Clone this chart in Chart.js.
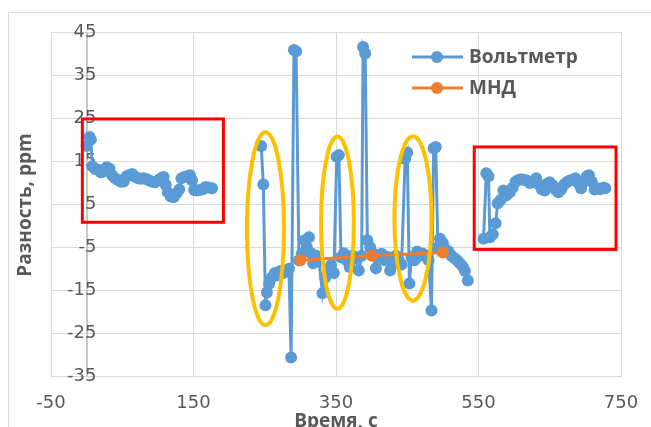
<!DOCTYPE html>
<html>
<head>
<meta charset="utf-8">
<script src="https://cdn.jsdelivr.net/npm/chart.js@4.4.1/dist/chart.umd.min.js"></script>
<style>
  html, body { margin: 0; padding: 0; background: #fff; }
  #wrap { position: relative; width: 651px; height: 427px; }
</style>
</head>
<body>
<div id="wrap"><canvas id="chart"></canvas></div>
<script>
// Вольтметр: три участка записи (время, с / разность, ppm)
const voltTime1 = [
    0, 4, 6, 8, 12, 16, 20, 24, 28, 32, 36, 40, 44, 48, 52, 56, 60, 64, 68, 72,
    76, 80, 84, 88, 92, 96, 100, 104, 108, 111, 114, 118, 122, 126, 130, 133, 137, 141, 145, 148,
    151, 155, 159, 163, 167, 171, 176
];
const voltDiff1 = [
    18.5, 20.6, 20.0, 13.8, 13.2, 13.0, 12.4, 12.6, 13.6, 13.3, 11.7, 11.0, 10.6, 10.2, 10.3, 11.5, 11.8, 12.0, 11.4, 11.0,
    10.9, 11.0, 10.8, 10.5, 10.2, 10.1, 10.5, 11.0, 11.3, 9.5, 7.8, 6.8, 6.6, 7.5, 8.4, 11.0, 11.3, 11.5, 11.7, 10.5,
    8.3, 8.2, 8.3, 8.5, 9.0, 8.9, 8.7
];
const voltTime2 = [
    245, 248, 251, 253, 256, 260, 264, 268, 272, 276, 280, 284, 287, 291, 294, 298, 302, 306, 309, 312,
    315, 318, 322, 326, 331, 335, 339, 343, 347, 351, 354, 357, 361, 365, 369, 373, 377, 382, 386, 388,
    391, 394, 398, 402, 406, 410, 414, 418, 422, 426, 430, 434, 438, 442, 447, 450, 453, 456, 460, 464,
    468, 472, 476, 480, 484, 487, 490, 493, 496, 500, 504, 508, 512, 516, 520, 524, 528, 531, 535
];
const voltDiff2 = [
    18.5, 9.6, -18.5, -15.5, -13.5, -12, -11, -11.5, -10.5, -11, -10.4, -10, -30.6, 40.8, 40.5, -8, -6.5, -3.4, -5, -2.7,
    -6.4, -8.7, -7, -8, -15.7, -12, -11, -9.2, -11, 16, 16.4, -7.3, -6.4, -8, -9.6, -7, -7.5, -10.4, -7, 41.5,
    40, -3.4, -5, -6.4, -9.9, -7, -6.5, -8, -7.2, -10.4, -9, -7, -8, -9, 15.5, 17, -13.4, -7.3, -8, -6,
    -7, -6.5, -7, -8, -19.7, 18, 18.3, -5, -3, -4, -5.5, -6, -7, -7.5, -8, -8.8, -9.5, -10.5, -12.7
];
const voltTime3 = [
    557, 561, 564, 566, 570, 574, 577, 581, 585, 589, 594, 598, 602, 606, 610, 614, 618, 622, 627, 631,
    635, 639, 643, 647, 650, 654, 658, 662, 666, 670, 674, 678, 682, 686, 690, 694, 698, 702, 705, 709,
    713, 717, 721, 725, 728
];
const voltDiff3 = [
    -3, 12.2, 11.5, -2.7, -2.0, 0.6, 5.2, 6.0, 8.2, 7.0, 7.8, 8.8, 10.2, 10.6, 10.8, 10.6, 10.5, 9.9, 10.3, 11.0,
    9.5, 8.4, 8.2, 9.8, 10.1, 9.4, 8.5, 7.8, 8.4, 9.5, 10.1, 10.5, 10.7, 11.0, 10.0, 8.7, 10.3, 11.5, 11.7, 10.2,
    8.4, 8.7, 8.5, 8.8, 8.7
];
// МНД
const mndTime = [300, 400, 500];
const mndDiff = [-8.0, -7.0, -6.2];

// деления осей
const xTicks = [-50, 150, 350, 550, 750];
const yTicks = [-35, -25, -15, -5, 5, 15, 25, 35, 45];

const seriesNames = ['Вольтметр', 'МНД'];
const xTitle = 'Время, с';
const yTitle = 'Разность, ppm';

// Пометки на рисунке (в единицах осей)
const redBoxes = [
    { x1: -6, x2: 192, y1: 0.8, y2: 24.8 },
    { x1: 544, x2: 743, y1: -5.5, y2: 18.3 }
];
const ovals = [
    { cx: 251, cy: -0.7, rx: 26, ry: 22.4 },
    { cx: 352, cy: 0.7, rx: 23, ry: 20 },
    { cx: 458, cy: 1.7, rx: 26, ry: 19.1 }
];

const BLUE = '#5B9BD5';
const ORANGE = '#ED7D31';
const GRID = '#D9D9D9';
const TEXT = '#595959';
const BOLD = 'bold 19px "Open Sans", "Liberation Sans", sans-serif';
const TICK_FONT = { family: '"DejaVu Sans", sans-serif', size: 18 };

const toPoints = (xs, ys) => xs.map((x, i) => ({ x, y: ys[i] }));

// участки не соединяются между собой
const voltPoints = [
    ...toPoints(voltTime1, voltDiff1), { x: 210, y: null },
    ...toPoints(voltTime2, voltDiff2), { x: 545, y: null },
    ...toPoints(voltTime3, voltDiff3)
];

// сетка: линии толщиной 1 px по делениям осей
const drawGrid = (chart) => {
    const { ctx: c, chartArea: a, scales: { x, y } } = chart;
    c.save();
    c.fillStyle = GRID;
    yTicks.forEach(v => {
        const row = Math.round(y.getPixelForValue(v) - 0.5);
        c.fillRect(Math.round(a.left), row, Math.round(a.right - a.left) + 1, 1);
    });
    xTicks.forEach(v => {
        const col = Math.round(x.getPixelForValue(v) - 0.5);
        c.fillRect(col, Math.round(a.top), 1, Math.round(a.bottom - a.top) + 1);
    });
    // вертикальная ось проходит через x = 0
    c.fillStyle = '#C8C8C8';
    c.fillRect(Math.round(x.getPixelForValue(0) - 1), Math.round(a.top), 2, Math.round(a.bottom - a.top) + 1);
    c.restore();
};

const decorPlugin = {
    id: 'decor',
    beforeDraw(chart) {
        const c = chart.ctx;
        c.save();
        c.strokeStyle = GRID;
        c.lineWidth = 1;
        c.strokeRect(8.5, 12.5, 700, 500);
        c.restore();
        drawGrid(chart);
    },
    afterDatasetsDraw(chart) {
        const { ctx: c, scales: { x, y } } = chart;
        c.save();
        c.strokeStyle = '#FF0000';
        c.lineWidth = 3;
        redBoxes.forEach(b => {
            const px1 = x.getPixelForValue(b.x1);
            const px2 = x.getPixelForValue(b.x2);
            const py1 = y.getPixelForValue(b.y2);
            const py2 = y.getPixelForValue(b.y1);
            c.strokeRect(px1, py1, px2 - px1, py2 - py1);
        });
        c.strokeStyle = '#FFC000';
        c.lineWidth = 4;
        ovals.forEach(o => {
            const cx = x.getPixelForValue(o.cx);
            const cy = y.getPixelForValue(o.cy);
            const rx = Math.abs(x.getPixelForValue(o.cx + o.rx) - cx);
            const ry = Math.abs(y.getPixelForValue(o.cy + o.ry) - cy);
            c.beginPath();
            c.ellipse(cx, cy, rx, ry, 0, 0, Math.PI * 2);
            c.stroke();
        });
        c.restore();
    },
    afterDraw(chart) {
        const c = chart.ctx;
        c.save();
        const colors = [BLUE, ORANGE];
        c.font = BOLD;
        c.textBaseline = 'middle';
        c.textAlign = 'left';
        seriesNames.forEach((name, i) => {
            const ly = 57 + i * 31;
            c.fillStyle = colors[i];
            c.fillRect(412, ly - 1.5, 51, 3);
            c.beginPath();
            c.arc(437, ly, 6, 0, Math.PI * 2);
            c.fill();
            c.fillStyle = TEXT;
            c.fillText(name, 469, ly + 1);
        });
        c.textAlign = 'center';
        c.textBaseline = 'alphabetic';
        c.fillText(xTitle, 336, 427);
        c.translate(31, 205);
        c.rotate(-Math.PI / 2);
        c.fillText(yTitle, 0, 0);
        c.restore();
    }
};

new Chart(document.getElementById('chart'), {
    type: 'line',
    data: {
        datasets: [
            {
                label: seriesNames[0],
                data: voltPoints,
                borderColor: BLUE,
                backgroundColor: BLUE,
                borderWidth: 3,
                pointRadius: 6,
                pointBorderWidth: 0,
                tension: 0,
                spanGaps: false,
                order: 2
            },
            {
                label: seriesNames[1],
                data: toPoints(mndTime, mndDiff),
                borderColor: ORANGE,
                backgroundColor: ORANGE,
                borderWidth: 3,
                pointRadius: 6,
                pointBorderWidth: 0,
                tension: 0,
                order: 1
            }
        ]
    },
    options: {
        responsive: true,
        maintainAspectRatio: false,
        animation: false,
        layout: { padding: { left: 51, right: 30, top: 32, bottom: 13 } },
        plugins: {
            legend: { display: false },
            tooltip: { enabled: false }
        },
        scales: {
            x: {
                type: 'linear',
                min: -50,
                max: 750,
                ticks: {
                    stepSize: 200,
                    padding: 0,
                    color: TEXT,
                    font: TICK_FONT
                },
                grid: { color: 'rgba(0,0,0,0)', drawTicks: true, tickLength: 16 },
                border: { display: false }
            },
            y: {
                type: 'linear',
                min: -35,
                max: 45,
                afterFit: (scale) => { scale.width = 0; },
                ticks: {
                    stepSize: 10,
                    mirror: true,
                    crossAlign: 'far',
                    padding: 16,
                    color: TEXT,
                    font: TICK_FONT
                },
                grid: { color: 'rgba(0,0,0,0)', drawTicks: false },
                border: { display: false }
            }
        }
    },
    plugins: [decorPlugin]
});
</script>
</body>
</html>
